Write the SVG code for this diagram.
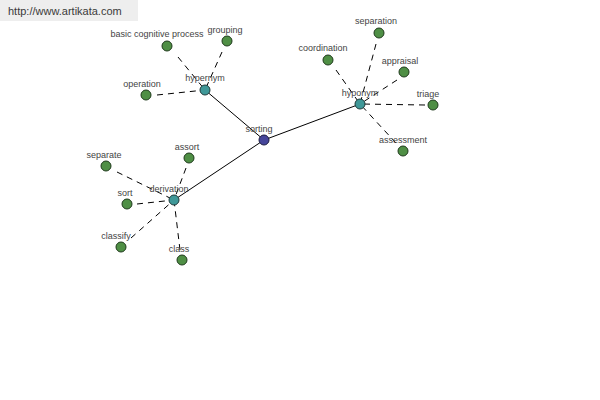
<svg xmlns="http://www.w3.org/2000/svg" width="600" height="400" viewBox="0 0 600 400">
<style>
text{font-family:"Liberation Sans",Arial,sans-serif;font-size:9px;fill:#444;text-anchor:middle}
.leaf{fill:#4f8f45;stroke:#1f3a1c;stroke-width:1}
.hub{fill:#3f9898;stroke:#1f3a3a;stroke-width:1}
.root{fill:#45459a;stroke:#1c1c40;stroke-width:1}
.d{stroke:#000;stroke-width:1;stroke-dasharray:6,5;fill:none}
.s{stroke:#000;stroke-width:1;fill:none}
</style>
<rect x="0" y="0" width="138" height="21" fill="#eeeeee"/>
<text x="8" y="15" style="font-size:11px;text-anchor:start;fill:#3a3a3a">http://www.artikata.com</text>
<g id="connectors">
<line class="s" x1="264" y1="140" x2="205" y2="90"/>
<line class="s" x1="264" y1="140" x2="360" y2="104"/>
<line class="s" x1="264" y1="140" x2="174" y2="200"/>
<line class="d" x1="178" y1="57" x2="205" y2="90"/>
<line class="d" x1="222" y1="52" x2="205" y2="90"/>
<line class="d" x1="157" y1="95" x2="205" y2="90"/>
<line class="d" x1="336" y1="70" x2="360" y2="104"/>
<line class="d" x1="376" y1="44" x2="360" y2="104"/>
<line class="d" x1="397" y1="80" x2="360" y2="104"/>
<line class="d" x1="425" y1="105" x2="360" y2="104"/>
<line class="d" x1="396" y1="143" x2="360" y2="104"/>
<line class="d" x1="117" y1="172" x2="174" y2="200"/>
<line class="d" x1="186" y1="168" x2="174" y2="200"/>
<line class="d" x1="137" y1="204" x2="174" y2="200"/>
<line class="d" x1="131" y1="238" x2="174" y2="200"/>
<line class="d" x1="180" y1="250" x2="174" y2="200"/>
</g>
<g id="sorting"><circle class="root" cx="264" cy="140" r="5"/><text x="259" y="132">sorting</text></g>
<g id="hypernym"><circle class="hub" cx="205" cy="90" r="5"/><text x="205" y="81">hypernym</text></g>
<g id="hyponym"><circle class="hub" cx="360" cy="104" r="5"/><text x="360" y="96">hyponym</text></g>
<g id="derivation"><circle class="hub" cx="174" cy="200" r="5"/><text x="169" y="192">derivation</text></g>
<g id="basic-cognitive-process"><circle class="leaf" cx="167" cy="46" r="5"/><text x="157" y="37">basic cognitive process</text></g>
<g id="grouping"><circle class="leaf" cx="227" cy="41" r="5"/><text x="225" y="33">grouping</text></g>
<g id="operation"><circle class="leaf" cx="146" cy="95" r="5"/><text x="142" y="87">operation</text></g>
<g id="coordination"><circle class="leaf" cx="328" cy="60" r="5"/><text x="323" y="51">coordination</text></g>
<g id="separation"><circle class="leaf" cx="379" cy="33" r="5"/><text x="376" y="24">separation</text></g>
<g id="appraisal"><circle class="leaf" cx="404" cy="72" r="5"/><text x="400" y="64">appraisal</text></g>
<g id="triage"><circle class="leaf" cx="433" cy="105" r="5"/><text x="428" y="97">triage</text></g>
<g id="assessment"><circle class="leaf" cx="403" cy="151" r="5"/><text x="403" y="143">assessment</text></g>
<g id="separate"><circle class="leaf" cx="106" cy="166" r="5"/><text x="104" y="158">separate</text></g>
<g id="assort"><circle class="leaf" cx="189" cy="158" r="5"/><text x="187" y="150">assort</text></g>
<g id="sort"><circle class="leaf" cx="127" cy="204" r="5"/><text x="125" y="196">sort</text></g>
<g id="classify"><circle class="leaf" cx="121" cy="247" r="5"/><text x="116" y="239">classify</text></g>
<g id="class"><circle class="leaf" cx="182" cy="260" r="5"/><text x="179" y="252">class</text></g>
</svg>
